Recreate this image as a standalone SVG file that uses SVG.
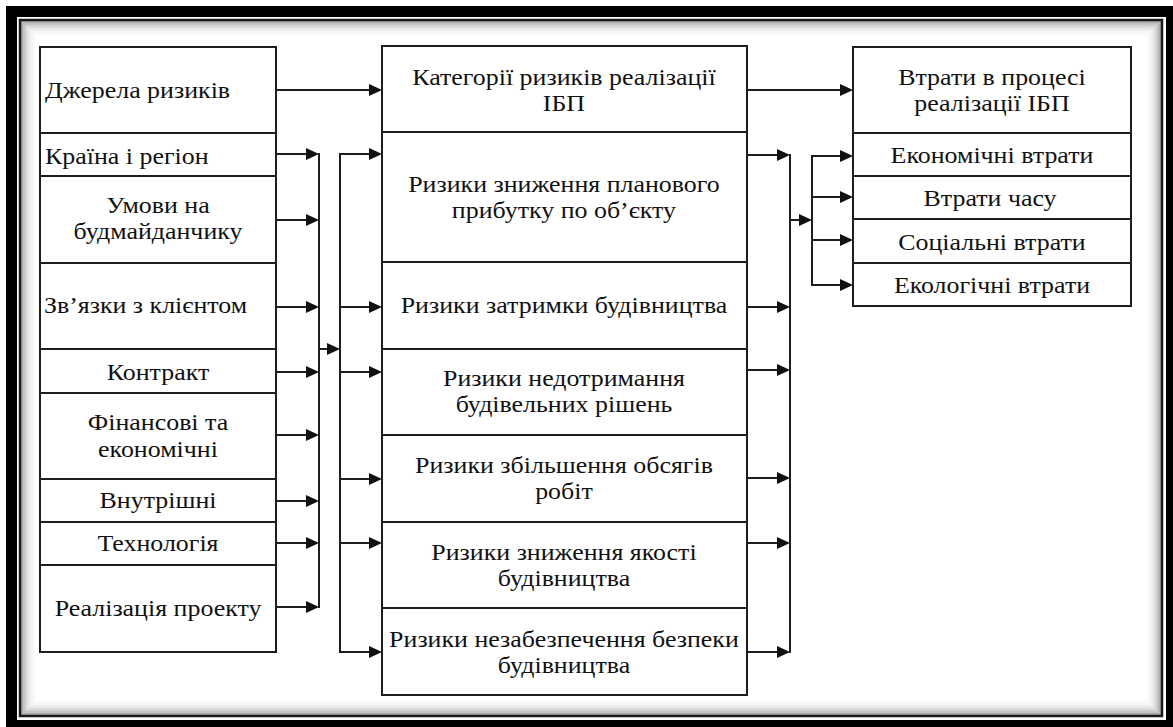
<svg xmlns="http://www.w3.org/2000/svg" width="1173" height="727" viewBox="0 0 1173 727">
  <!-- page frame: thick black border, thin white gap, dark rule, inset shading -->
  <rect x="0" y="0" width="1173" height="727" fill="#fff"/>
  <rect x="6" y="6" width="1167" height="721" fill="#000"/>
  <rect x="17" y="17" width="1149" height="703" fill="#fff"/>
  <rect x="20" y="20" width="1142" height="696" fill="#fff" stroke="#1a1a1a" stroke-width="2.5"/>
  <g fill="none" stroke="#000" stroke-width="2">
    <rect x="22" y="22" width="1138" height="692" stroke-opacity="0.32"/>
    <rect x="24" y="24" width="1134" height="688" stroke-opacity="0.24"/>
    <rect x="26" y="26" width="1130" height="684" stroke-opacity="0.17"/>
    <rect x="28" y="28" width="1126" height="680" stroke-opacity="0.11"/>
    <rect x="30" y="30" width="1122" height="676" stroke-opacity="0.07"/>
    <rect x="32" y="32" width="1118" height="672" stroke-opacity="0.04"/>
    <rect x="34" y="34" width="1114" height="668" stroke-opacity="0.02"/>
  </g>

  <!-- box outlines -->
  <g fill="#fff" stroke="#1e1e1e" stroke-width="2">
    <g id="sources">
      <rect x="40" y="47" width="236" height="605"/>
      <path fill="none" d="M40,133 H276 M40,176 H276 M40,263 H276 M40,349 H276 M40,393 H276 M40,479 H276 M40,522 H276 M40,565 H276"/>
    </g>
    <g id="categories">
      <rect x="382" y="46" width="365" height="649"/>
      <path fill="none" d="M382,132 H747 M382,262 H747 M382,349 H747 M382,435 H747 M382,522 H747 M382,608 H747"/>
    </g>
    <g id="losses">
      <rect x="853" y="47" width="278" height="259"/>
      <path fill="none" d="M853,133 H1131 M853,176 H1131 M853,219 H1131 M853,263 H1131"/>
    </g>
  </g>

  <!-- labels: set in a slightly widened serif (x coordinates are divided by 1.08) -->
  <g transform="scale(1.08,1)" font-size="24" fill="#111">
    <g id="src-header"><text font-family="Liberation Serif" x="41.7" y="98">Джерела ризиків</text></g>
    <g id="src-country"><text font-family="Liberation Serif" x="41.7" y="164">Країна і регіон</text></g>
    <g id="src-client"><text font-family="Liberation Serif" x="40.7" y="313">Зв’язки з клієнтом</text></g>
    <g text-anchor="middle">
      <g id="src-site">
        <text font-family="Liberation Serif" x="146.3" y="213">Умови на</text>
        <text font-family="Liberation Serif" x="146.3" y="239">будмайданчику</text>
      </g>
      <g id="src-contract"><text font-family="Liberation Serif" x="146.3" y="380">Контракт</text></g>
      <g id="src-finance">
        <text font-family="Liberation Serif" x="146.3" y="430">Фінансові та</text>
        <text font-family="Liberation Serif" x="146.3" y="457">економічні</text>
      </g>
      <g id="src-internal"><text font-family="Liberation Serif" x="146.3" y="508">Внутрішні</text></g>
      <g id="src-tech"><text font-family="Liberation Serif" x="146.3" y="551">Технологія</text></g>
      <g id="src-project"><text font-family="Liberation Serif" x="146.3" y="616">Реалізація проекту</text></g>

      <g id="cat-header">
        <text font-family="Liberation Serif" x="522.2" y="85">Категорії ризиків реалізації</text>
        <text font-family="Liberation Serif" x="522.2" y="111">ІБП</text>
      </g>
      <g id="cat-profit">
        <text font-family="Liberation Serif" x="522.2" y="192">Ризики зниження планового</text>
        <text font-family="Liberation Serif" x="522.2" y="218">прибутку по об’єкту</text>
      </g>
      <g id="cat-delay"><text font-family="Liberation Serif" x="522.2" y="313">Ризики затримки будівництва</text></g>
      <g id="cat-decisions">
        <text font-family="Liberation Serif" x="522.2" y="386">Ризики недотримання</text>
        <text font-family="Liberation Serif" x="522.2" y="412">будівельних рішень</text>
      </g>
      <g id="cat-volume">
        <text font-family="Liberation Serif" x="522.2" y="473">Ризики збільшення обсягів</text>
        <text font-family="Liberation Serif" x="522.2" y="499">робіт</text>
      </g>
      <g id="cat-quality">
        <text font-family="Liberation Serif" x="522.2" y="560">Ризики зниження якості</text>
        <text font-family="Liberation Serif" x="522.2" y="586">будівництва</text>
      </g>
      <g id="cat-safety">
        <text font-family="Liberation Serif" x="522.2" y="647">Ризики незабезпечення безпеки</text>
        <text font-family="Liberation Serif" x="522.2" y="673">будівництва</text>
      </g>

      <g id="loss-header">
        <text font-family="Liberation Serif" x="918.5" y="85">Втрати в процесі</text>
        <text font-family="Liberation Serif" x="918.5" y="111">реалізації ІБП</text>
      </g>
      <g id="loss-econ"><text font-family="Liberation Serif" x="918.5" y="163">Економічні втрати</text></g>
      <g id="loss-time"><text font-family="Liberation Serif" x="916.7" y="206">Втрати часу</text></g>
      <g id="loss-social"><text font-family="Liberation Serif" x="918.5" y="250">Соціальні втрати</text></g>
      <g id="loss-eco"><text font-family="Liberation Serif" x="918.5" y="293">Екологічні втрати</text></g>
    </g>
  </g>

  <!-- connectors: bus lines, arrow shafts and filled arrowheads -->
  <g id="connectors">
    <g stroke="#1e1e1e" stroke-width="2" fill="none">
      <path d="M319,153 V608 M340,153 V653 M790,154 V653 M812,155 V286"/>
      <path d="M276,90 H372 M747,90 H843"/>
      <path d="M276,154 H309 M276,220 H309 M276,307 H309 M276,372 H309 M276,435 H309 M276,501 H309 M276,543 H309 M276,607 H309 M319,349 H330"/>
      <path d="M340,154 H372 M340,307 H372 M340,372 H372 M340,479 H372 M340,543 H372 M340,652 H372"/>
      <path d="M747,155 H780 M747,307 H780 M747,370 H780 M747,478 H780 M747,543 H780 M747,652 H780 M790,220 H802"/>
      <path d="M812,156 H843 M812,197 H843 M812,240 H843 M812,285 H843"/>
    </g>
    <path fill="#111" d="M369,84L382,90L369,96Z M840,84L853,90L840,96Z
      M306,148L319,154L306,160Z M306,214L319,220L306,226Z M306,301L319,307L306,313Z M306,366L319,372L306,378Z
      M306,429L319,435L306,441Z M306,495L319,501L306,507Z M306,537L319,543L306,549Z M306,601L319,607L306,613Z
      M327,343L340,349L327,355Z
      M369,148L382,154L369,160Z M369,301L382,307L369,313Z M369,366L382,372L369,378Z
      M369,473L382,479L369,485Z M369,537L382,543L369,549Z M369,646L382,652L369,658Z
      M777,149L790,155L777,161Z M777,301L790,307L777,313Z M777,364L790,370L777,376Z
      M777,472L790,478L777,484Z M777,537L790,543L777,549Z M777,646L790,652L777,658Z
      M799,214L812,220L799,226Z
      M840,150L853,156L840,162Z M840,191L853,197L840,203Z M840,234L853,240L840,246Z M840,279L853,285L840,291Z"/>
  </g>
</svg>
